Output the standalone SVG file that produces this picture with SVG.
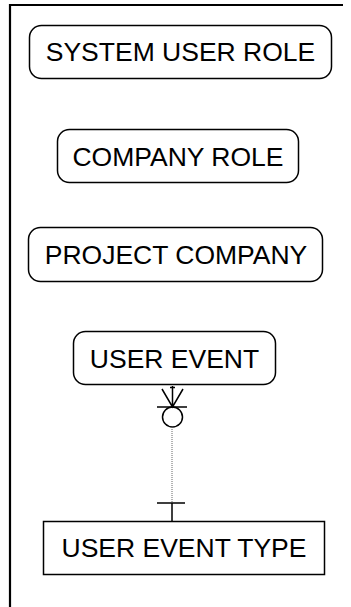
<svg xmlns="http://www.w3.org/2000/svg" width="351" height="607" viewBox="0 0 351 607">
<style>
.frame{fill:none;stroke:#000;stroke-width:2.2}
.ent{fill:#fff;stroke:#000;stroke-width:1.5}
.lbl{font-family:"Liberation Sans",Arial,sans-serif;font-size:26.5px;fill:#000;text-anchor:middle}
.rel{fill:none;stroke:#000;stroke-width:1.5}
.dot{fill:none;stroke:#666;stroke-width:1;stroke-dasharray:1 1}
</style>
<rect width="351" height="607" fill="#fff"/>
<path class="frame" d="M343,5 H10 V607"/>
<g id="system-user-role">
<rect class="ent" x="29.5" y="25.5" width="302" height="53" rx="12"/>
<text class="lbl" x="180.5" y="61">SYSTEM USER ROLE</text>
</g>
<g id="company-role">
<rect class="ent" x="57.5" y="129.5" width="241" height="53" rx="12"/>
<text class="lbl" x="178" y="166">COMPANY ROLE</text>
</g>
<g id="project-company">
<rect class="ent" x="28.5" y="227.5" width="294" height="54" rx="12"/>
<text class="lbl" x="176" y="264">PROJECT COMPANY</text>
</g>
<g id="user-event">
<rect class="ent" x="73.5" y="331.5" width="202" height="53" rx="12"/>
<text class="lbl" x="174.5" y="368">USER EVENT</text>
</g>
<g id="user-event-type">
<rect class="ent" x="43.5" y="521.5" width="281" height="53"/>
<text class="lbl" x="184" y="557">USER EVENT TYPE</text>
</g>
<g id="connectors">
<path class="rel" d="M170,387.5 H175 M172.5,386 V407 M162,389 L172.5,407 L183,389 M157,407 H187"/>
<circle class="rel" cx="172.5" cy="417" r="10" fill="#fff"/>
<line class="dot" x1="172" y1="427" x2="172" y2="503"/>
<path class="rel" d="M157,503 H185 M172,503 V521"/>
</g>
</svg>
